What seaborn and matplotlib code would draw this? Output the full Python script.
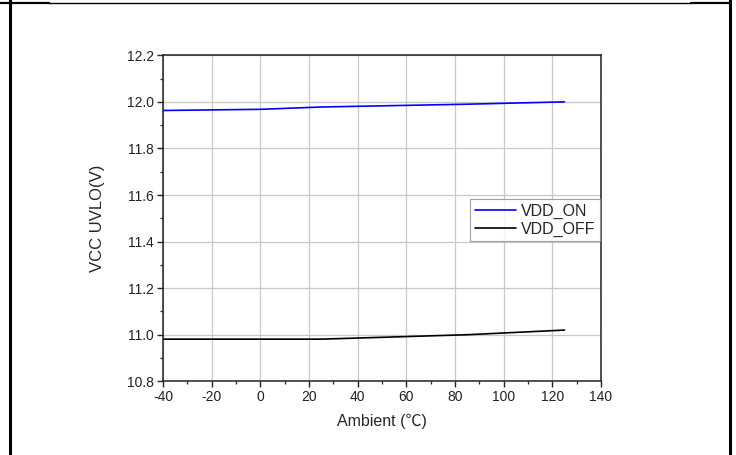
import pandas as pd
import matplotlib
matplotlib.use("Agg")
import matplotlib.pyplot as plt
from matplotlib.lines import Line2D
from matplotlib.ticker import MultipleLocator, FormatStrFormatter
import seaborn as sns

# data
temps = [-40, 0, 25, 85, 125]
vdd_on = [11.963, 11.968, 11.978, 11.990, 12.000]
vdd_off = [10.981, 10.981, 10.981, 11.000, 11.020]
series_names = ["VDD_ON", "VDD_OFF"]
series_colors = ["#0000ff", "#000000"]

df = pd.DataFrame({
    "Ambient": temps * 2,
    "value": vdd_on + vdd_off,
    "series": [series_names[0]] * len(temps) + [series_names[1]] * len(temps),
})

sns.set_style("white")
plt.rcParams['font.family'] = ['Liberation Sans', 'Noto Sans CJK SC', 'DejaVu Sans']
plt.rcParams['axes.unicode_minus'] = False

W, H = 736, 455
fig = plt.figure(figsize=(W / 100, H / 100), dpi=100)
ax = fig.add_axes([163 / W, 1 - 381.3 / H, (601 - 163) / W, (381.3 - 55.3) / H])

sns.lineplot(data=df, x="Ambient", y="value", hue="series",
             palette=dict(zip(series_names, series_colors)),
             linewidth=1.2, ax=ax, legend=True)

ax.set_xlim(-40, 140)
ax.set_ylim(10.8, 12.2)
ax.xaxis.set_major_locator(MultipleLocator(20))
ax.xaxis.set_minor_locator(MultipleLocator(10))
ax.yaxis.set_major_locator(MultipleLocator(0.2))
ax.yaxis.set_minor_locator(MultipleLocator(0.1))
ax.yaxis.set_major_formatter(FormatStrFormatter("%.1f"))

ax.grid(True, which="major", color="#c8c8c8", linewidth=0.9)
ax.set_axisbelow(True)
for s in ax.spines.values():
    s.set_color("#222222")
    s.set_linewidth(1.1)

ax.tick_params(axis="both", which="major", direction="out", length=4, width=1,
               labelsize=10, colors="#222222", pad=2.5,
               bottom=True, left=True, top=False, right=False)
ax.tick_params(axis="both", which="minor", direction="out", length=2.5, width=0.9,
               bottom=True, left=True, top=False, right=False)

ax.set_xlabel("Ambient (℃)", fontsize=11.5, labelpad=7)
ax.set_ylabel("VCC UVLO(V)", fontsize=12, labelpad=16)

leg = ax.legend(loc="upper right", bbox_to_anchor=(0.998, 0.559), borderaxespad=0,
                fontsize=11.5, frameon=True, fancybox=False, handlelength=2.6,
                handletextpad=0.3, borderpad=0.3, labelspacing=0.15)
leg.get_frame().set_edgecolor("#888888")
leg.get_frame().set_linewidth(0.8)
leg.set_title(None)

# page frame around the figure
def px_line(x0, y0, x1, y1, lw):
    fig.add_artist(Line2D([x0 / W, x1 / W], [1 - y0 / H, 1 - y1 / H],
                          transform=fig.transFigure, color="black", linewidth=lw))

px_line(10, 0, 10, H, 2.2)
px_line(730, 0, 730, H, 2.2)
px_line(0, 3, 49, 3, 1.6)
px_line(49, 3, 691, 3, 1.0)
px_line(691, 3, 731, 3, 1.6)

fig.savefig("out.png", dpi=100)
